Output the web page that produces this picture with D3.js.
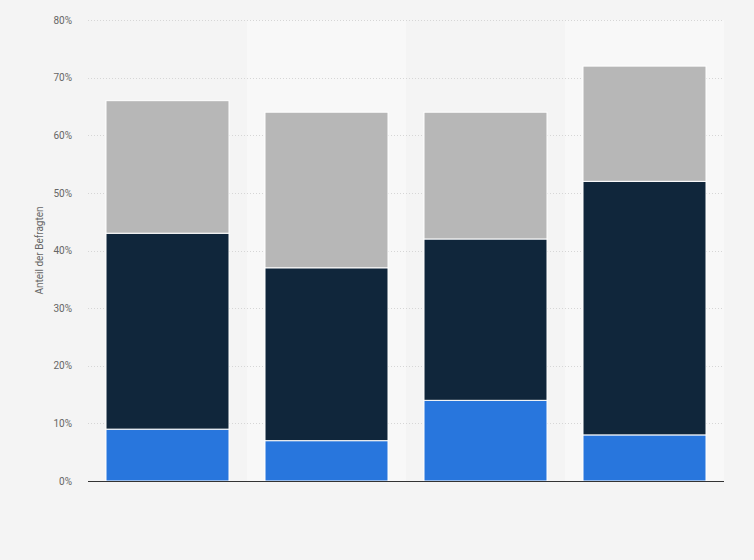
<!DOCTYPE html>
<html>
<head>
<meta charset="utf-8">
<script src="https://cdn.jsdelivr.net/npm/d3@7"></script>
<style>
  html, body { margin: 0; padding: 0; background: #f4f4f4; }
  svg { display: block; font-family: Roboto, "Liberation Sans", Arial, sans-serif; }
</style>
</head>
<body>
<svg id="chart" width="754" height="560"></svg>
<script>
// Data
const categories = ["Gruppe 1", "Gruppe 2", "Gruppe 3", "Gruppe 4"];
const seriesNames = ["Serie 1", "Serie 2", "Serie 3"];
const series1 = [9, 7, 14, 8];
const series2 = [34, 30, 28, 44];
const series3 = [23, 27, 22, 20];
const yTicks = [0, 10, 20, 30, 40, 50, 60, 70, 80];
const colors = ["#2876dd", "#10263b", "#b7b7b7"];
const yLabel = "Anteil der Befragten";

const rows = categories.map((c, i) => ({ cat: c, s0: series1[i], s1: series2[i], s2: series3[i] }));
const stack = d3.stack().keys(["s0", "s1", "s2"])(rows);

const svg = d3.select("#chart");
const margin = { left: 88, right: 30, top: 20, bottom: 79 };
const W = 754, H = 560;
const x = d3.scaleBand().domain(categories).range([margin.left, W - margin.right]).paddingInner(0).paddingOuter(0);
const y = d3.scaleLinear().domain([0, 80]).range([H - margin.bottom, margin.top]);

// alternating bands
svg.append("g").selectAll("rect").data(categories.filter((d, i) => i % 2 === 1)).join("rect")
  .attr("x", d => x(d)).attr("width", x.bandwidth())
  .attr("y", y(80)).attr("height", y(0) - y(80))
  .attr("fill", "#f8f8f8");

// grid
svg.append("g").selectAll("line").data(yTicks.filter(t => t > 0)).join("line")
  .attr("x1", margin.left).attr("x2", W - margin.right)
  .attr("y1", d => Math.round(y(d)) + 0.5).attr("y2", d => Math.round(y(d)) + 0.5)
  .attr("stroke", "#d6d6d6").attr("stroke-width", 1).attr("stroke-dasharray", "1,2");

// y axis labels
const yAxis = d3.axisLeft(y).tickValues(yTicks).tickFormat(d => d + "%").tickSize(0).tickPadding(0);
const ga = svg.append("g").attr("transform", `translate(${margin.left - 16},0)`).call(yAxis);
ga.select(".domain").remove();
ga.selectAll("text").attr("fill", "#666").attr("font-size", "10px")
  .attr("font-family", "Roboto, 'Liberation Sans', Arial, sans-serif");

// bars
const barW = 123;
const off = (x.bandwidth() - barW) / 2;
svg.append("g").selectAll("g").data(stack).join("g")
  .attr("fill", (d, i) => colors[i])
  .selectAll("rect").data(d => d).join("rect")
  .attr("x", d => x(d.data.cat) + off)
  .attr("width", barW)
  .attr("y", d => y(d[1]))
  .attr("height", d => y(d[0]) - y(d[1]))
  .attr("stroke", "#ffffff").attr("stroke-width", 1);

// baseline
svg.append("line")
  .attr("x1", margin.left).attr("x2", W - margin.right)
  .attr("y1", y(0) + 0.5).attr("y2", y(0) + 0.5)
  .attr("stroke", "#333").attr("stroke-width", 1.2);

// y label
svg.append("text")
  .attr("transform", `translate(43,${(y(0) + y(80)) / 2}) rotate(-90)`)
  .attr("text-anchor", "middle")
  .attr("fill", "#666").attr("font-size", "10px")
  .text(yLabel);
</script>
</body>
</html>
